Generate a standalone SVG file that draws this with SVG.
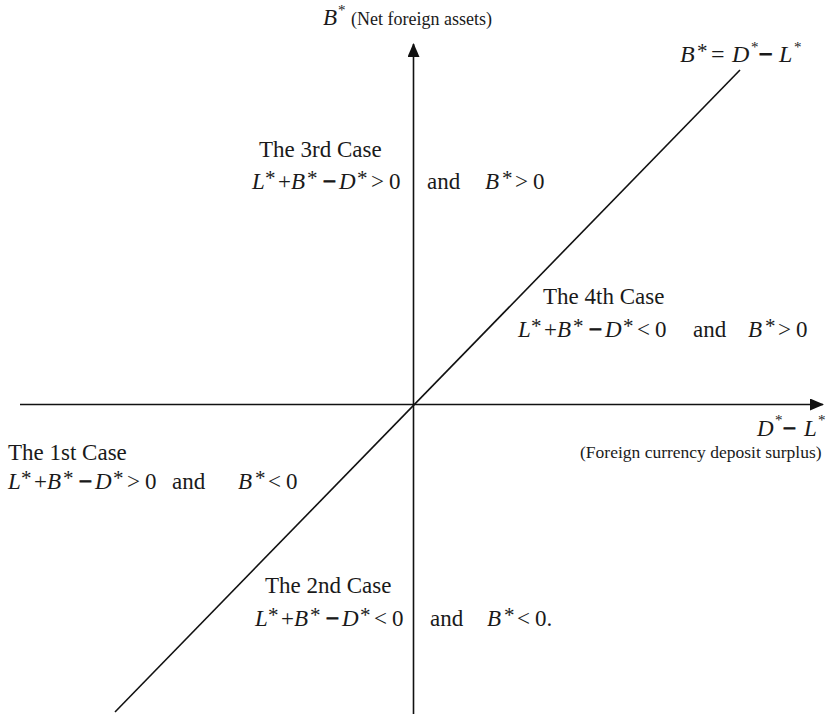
<svg xmlns="http://www.w3.org/2000/svg" width="827" height="714" viewBox="0 0 827 714">
<style>
text{font-family:"Liberation Serif","Times New Roman",serif;fill:#1a1a1a;font-size:23px}
.s{font-size:18px}
.f{font-size:17.5px}
.i{font-style:italic}
.sm{font-size:15px}
.st{font-size:21px}
.m{stroke:#1a1a1a;stroke-width:1.2}
.ax{stroke:#111;stroke-width:1.6;fill:none}
</style>
<defs>
<marker id="arr" viewBox="0 0 14 12" refX="13" refY="6" markerWidth="14" markerHeight="12" markerUnits="userSpaceOnUse" orient="auto">
<path d="M0,0 L14,6 L0,12 Z" fill="#111"/>
</marker>
</defs>
<rect width="827" height="714" fill="#fff"/>
<g id="connectors">
<line class="ax" x1="413.5" y1="714" x2="413.5" y2="44" marker-end="url(#arr)"/>
<line class="ax" x1="20" y1="404.5" x2="823" y2="404.5" marker-end="url(#arr)"/>
<line class="ax" x1="115" y1="712" x2="740" y2="70"/>
</g>
<g id="y-axis-label">
<text><tspan x="323" y="25" class="i">B</tspan><tspan x="338" y="15" class="sm">*</tspan></text>
<text x="351" y="25" class="s">(Net foreign assets)</text>
</g>
<g id="line-label">
<text style="font-size:24px"><tspan x="680" y="62" class="i">B</tspan><tspan x="697" y="58" class="st">*</tspan><tspan x="711" y="62">=</tspan><tspan x="732" y="62" class="i">D</tspan><tspan x="751" y="52" class="sm">*</tspan><tspan x="759" y="62" class="m">−</tspan><tspan x="779" y="62" class="i">L</tspan><tspan x="794" y="52" class="sm">*</tspan></text>
</g>
<g id="x-axis-label">
<text><tspan x="757" y="436" class="i">D</tspan><tspan x="775" y="425" class="sm">*</tspan><tspan x="783" y="436" class="m">−</tspan><tspan x="804" y="436" class="i">L</tspan><tspan x="818" y="425" class="sm">*</tspan></text>
<text x="580" y="458" class="f">(Foreign currency deposit surplus)</text>
</g>
<g id="case3">
<text x="259" y="157">The 3rd Case</text>
<text><tspan x="252" y="189" class="i">L</tspan><tspan x="265" y="185" class="st">*</tspan><tspan x="278" y="189">+</tspan><tspan x="291" y="189" class="i">B</tspan><tspan x="307" y="185" class="st">*</tspan><tspan x="323" y="189" class="m">−</tspan><tspan x="339" y="189" class="i">D</tspan><tspan x="357" y="185" class="st">*</tspan><tspan x="371" y="189">&gt;</tspan><tspan x="389" y="189">0</tspan></text>
<text x="427" y="189">and</text>
<text><tspan x="485" y="189" class="i">B</tspan><tspan x="502" y="185" class="st">*</tspan><tspan x="515" y="189">&gt;</tspan><tspan x="533" y="189">0</tspan></text>
</g>
<g id="case4">
<text x="543" y="304">The 4th Case</text>
<text><tspan x="518" y="337" class="i">L</tspan><tspan x="531" y="333" class="st">*</tspan><tspan x="544" y="337">+</tspan><tspan x="557" y="337" class="i">B</tspan><tspan x="573" y="333" class="st">*</tspan><tspan x="589" y="337" class="m">−</tspan><tspan x="605" y="337" class="i">D</tspan><tspan x="623" y="333" class="st">*</tspan><tspan x="637" y="337">&lt;</tspan><tspan x="655" y="337">0</tspan></text>
<text x="693" y="337">and</text>
<text><tspan x="748" y="337" class="i">B</tspan><tspan x="765" y="333" class="st">*</tspan><tspan x="778" y="337">&gt;</tspan><tspan x="796" y="337">0</tspan></text>
</g>
<g id="case1">
<text x="8" y="460">The 1st Case</text>
<text><tspan x="8" y="489" class="i">L</tspan><tspan x="21" y="485" class="st">*</tspan><tspan x="34" y="489">+</tspan><tspan x="47" y="489" class="i">B</tspan><tspan x="63" y="485" class="st">*</tspan><tspan x="79" y="489" class="m">−</tspan><tspan x="95" y="489" class="i">D</tspan><tspan x="113" y="485" class="st">*</tspan><tspan x="127" y="489">&gt;</tspan><tspan x="145" y="489">0</tspan></text>
<text x="172" y="489">and</text>
<text><tspan x="238" y="489" class="i">B</tspan><tspan x="255" y="485" class="st">*</tspan><tspan x="268" y="489">&lt;</tspan><tspan x="286" y="489">0</tspan></text>
</g>
<g id="case2">
<text x="265" y="593">The 2nd Case</text>
<text><tspan x="255" y="626" class="i">L</tspan><tspan x="268" y="622" class="st">*</tspan><tspan x="281" y="626">+</tspan><tspan x="294" y="626" class="i">B</tspan><tspan x="310" y="622" class="st">*</tspan><tspan x="326" y="626" class="m">−</tspan><tspan x="342" y="626" class="i">D</tspan><tspan x="360" y="622" class="st">*</tspan><tspan x="374" y="626">&lt;</tspan><tspan x="392" y="626">0</tspan></text>
<text x="430" y="626">and</text>
<text><tspan x="487" y="626" class="i">B</tspan><tspan x="504" y="622" class="st">*</tspan><tspan x="517" y="626">&lt;</tspan><tspan x="535" y="626">0.</tspan></text>
</g>
</svg>
